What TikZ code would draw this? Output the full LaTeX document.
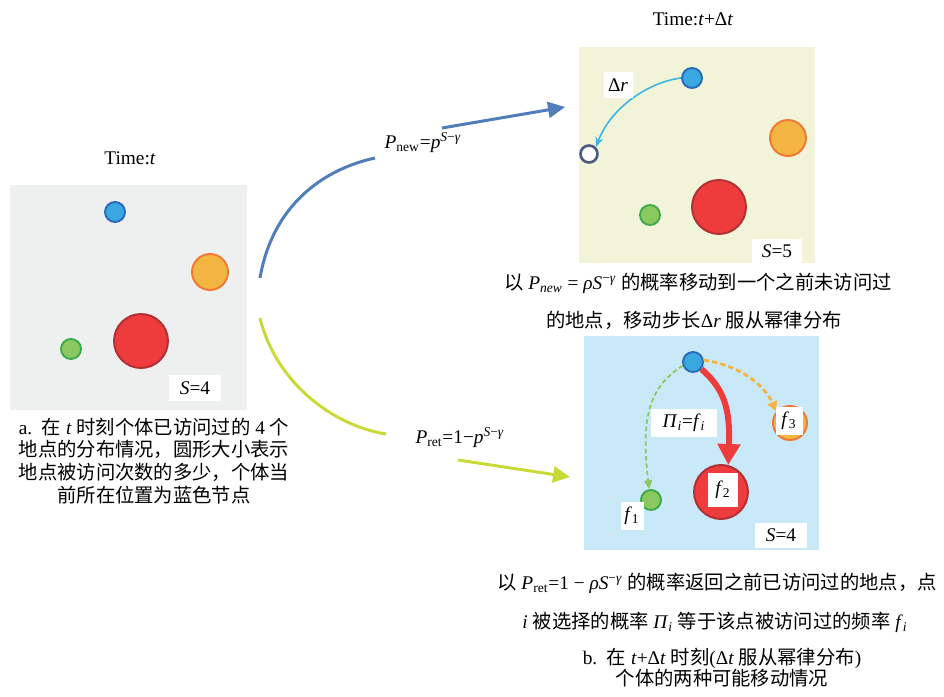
\documentclass[tikz,border=0pt]{standalone}
\usepackage{fontspec}
\setmainfont{Liberation Serif}
\newfontfamily\cjk{Noto Sans CJK SC}
\usetikzlibrary{arrows.meta}

\definecolor{panelgray}{HTML}{EEF0F0}
\definecolor{panelyellow}{HTML}{F1F4D9}
\definecolor{panelblue}{HTML}{C9E9F8}
\definecolor{dotblue}{HTML}{3AA8E0}
\definecolor{dotblueline}{HTML}{2A6AB8}
\definecolor{dotorange}{HTML}{F3B443}
\definecolor{dotorangeline}{HTML}{F07830}
\definecolor{dotred}{HTML}{EE3B3B}
\definecolor{dotredline}{HTML}{B03038}
\definecolor{dotgreen}{HTML}{8CC860}
\definecolor{dotgreenline}{HTML}{3CAA48}
\definecolor{hollowline}{HTML}{4A5A80}
\definecolor{newarrow}{HTML}{4F7EBA}
\definecolor{retarrow}{HTML}{C8DA35}
\definecolor{steparrow}{HTML}{3CB4E4}

\newcommand{\zh}[1]{{\cjk #1}}

\begin{document}
\begin{tikzpicture}[x=0.02cm,y=-0.02cm,font=\fontsize{11}{13}\selectfont,
  dot/.style={circle,inner sep=0pt,line width=1.1pt},
  bluedot/.style={dot,draw=dotblueline,fill=dotblue,minimum size=0.4cm},
  orangedot/.style={dot,draw=dotorangeline,fill=dotorange,minimum size=#1},
  reddot/.style={dot,draw=dotredline,fill=dotred,minimum size=1.08cm},
  greendot/.style={dot,draw=dotgreenline,fill=dotgreen,minimum size=0.4cm},
  tag/.style={fill=white,inner sep=0pt,minimum height=0.52cm},
  bigarrow/.style={line width=1.7pt,-{Triangle[length=0.34cm,width=0.32cm]}}]
  \useasboundingbox (0,0) rectangle (944,697);

  % Panels
  \fill[panelgray] (10,185) rectangle (247,410);
  \fill[panelyellow] (579,47) rectangle (815,263);
  \fill[panelblue] (584,336) rectangle (819,550);

  % Time t
  \node (timet) at (130,158) {Time:\textit{t}};
  \node[bluedot] (ab) at (115,212) {};
  \node[orangedot=0.72cm] (ao) at (210,272) {};
  \node[reddot] (ar) at (141,341) {};
  \node[greendot] (ag) at (71,349) {};
  \node[tag,minimum width=1.06cm] (as) at (195,388) {\textit{S}=4};

  % Time t+dt, new location
  \node (timedt) at (693,19) {Time:\textit{t}+Δ\textit{t}};
  \node[bluedot] (tb) at (692,78) {};
  \node[dot,draw=hollowline,fill=white,line width=1.5pt,minimum size=0.34cm] (th) at (589,154) {};
  \node[orangedot=0.72cm] (to) at (788,138) {};
  \node[reddot] (tr) at (719,207) {};
  \node[greendot] (tg) at (650,215) {};
  \node[tag,minimum width=1cm,minimum height=0.48cm] (ts) at (777,251) {\textit{S}=5};
  \draw[steparrow,line width=0.9pt,-{Stealth[length=0.2cm,width=0.16cm]}]
    (tb.180) .. controls +(-32,4) and +(15,-40) .. (th.45);
  \node[tag,minimum width=0.58cm] (dr) at (618,85) {Δ\textit{r}};

  % Time t+dt, return
  \node[bluedot] (bb) at (693,362) {};
  \node[orangedot=0.68cm] (bo) at (790,423) {};
  \node[reddot] (br) at (721,492) {};
  \node[greendot] (bg) at (651,500) {};
  \draw[dotgreen,line width=1pt,dash pattern=on 2.6pt off 1.6pt,-{Triangle[length=0.18cm,width=0.16cm]}]
    (bb.200) .. controls +(-35,22) and +(-8,-70) .. (bg.100);
  \draw[dotorange,line width=1.6pt,dash pattern=on 3pt off 1.8pt,-{Triangle[length=0.2cm,width=0.2cm]}]
    (bb.10) .. controls +(35,5) and +(-12,-27) .. (bo.140);
  \draw[dotred,line width=3.4pt,-{Triangle[length=0.42cm,width=0.44cm]}]
    (bb.-40) .. controls +(23,20) and +(2,-56) .. (br.75);
  \node[tag,minimum width=0.46cm,minimum height=0.56cm] (f1) at (632,516) {\textit{f}\textsubscript{1}};
  \node[tag,minimum width=0.6cm,minimum height=0.68cm] (f2) at (723,490) {\textit{f}\textsubscript{2}};
  \node[tag,minimum width=0.54cm,minimum height=0.56cm] (f3) at (789,421) {\textit{f}\textsubscript{3}};
  \node[tag,minimum width=1.32cm,minimum height=0.56cm] (pi) at (684,423) {\textit{Π}\textsubscript{\textit{i}}=\textit{f}\textsubscript{\textit{i}}};
  \node[tag,minimum width=1.04cm,minimum height=0.5cm] (bs) at (781,535) {\textit{S}=4};

  % Big arrows
  \coordinate (newa) at (260,278);
  \coordinate (newb) at (375,158);
  \coordinate (newc) at (442,128);
  \coordinate (newd) at (565,107);
  \draw[newarrow,line width=1.7pt] (newa) .. controls (272,208) and (320,170) .. (newb);
  \draw[newarrow,bigarrow] (newc) -- (newd);
  \node (pnew) at (423,143) {\textit{P}\textsubscript{new}=\textit{p}\textsuperscript{\textit{S}−\textit{γ}}};

  \coordinate (reta) at (260,318);
  \coordinate (retb) at (386,434);
  \coordinate (retc) at (458,460);
  \coordinate (retd) at (570,477);
  \draw[retarrow,line width=1.7pt] (reta) .. controls (275,380) and (330,425) .. (retb);
  \draw[retarrow,bigarrow] (retc) -- (retd);
  \node (pret) at (460,438) {\textit{P}\textsubscript{ret}=1−\textit{p}\textsuperscript{\textit{S}−\textit{γ}}};

  % Captions
  \node[align=center] (capa) at (154,461) {a.\ \ \zh{在} \textit{t} \zh{时刻个体已访问过的} 4 \zh{个}\\
    \zh{地点的分布情况，圆形大小表示}\\ \zh{地点被访问次数的多少，个体当}\\ \zh{前所在位置为蓝色节点}};
  \node (capn1) at (698,283) {\zh{以} \textit{P}\textsubscript{\textit{new}} = \textit{ρS}\textsuperscript{−\textit{γ}} \zh{的概率移动到一个之前未访问过}};
  \node (capn2) at (694,320) {\zh{的地点，移动步长}Δ\textit{r} \zh{服从幂律分布}};
  \node (capr1) at (717,583) {\zh{以} \textit{P}\textsubscript{ret}=1 − \textit{ρS}\textsuperscript{−\textit{γ}} \zh{的概率返回之前已访问过的地点，点}};
  \node (capr2) at (715,622) {\textit{i} \zh{被选择的概率} \textit{Π}\textsubscript{\textit{i}} \zh{等于该点被访问过的频率} \textit{f}\textsubscript{\textit{i}}};
  \node[align=center] (capb) at (722,668) {b.\ \ \zh{在} \textit{t}+Δ\textit{t} \zh{时刻}(Δ\textit{t} \zh{服从幂律分布})\\[-1pt] \zh{个体的两种可能移动情况}};
\end{tikzpicture}
\end{document}
